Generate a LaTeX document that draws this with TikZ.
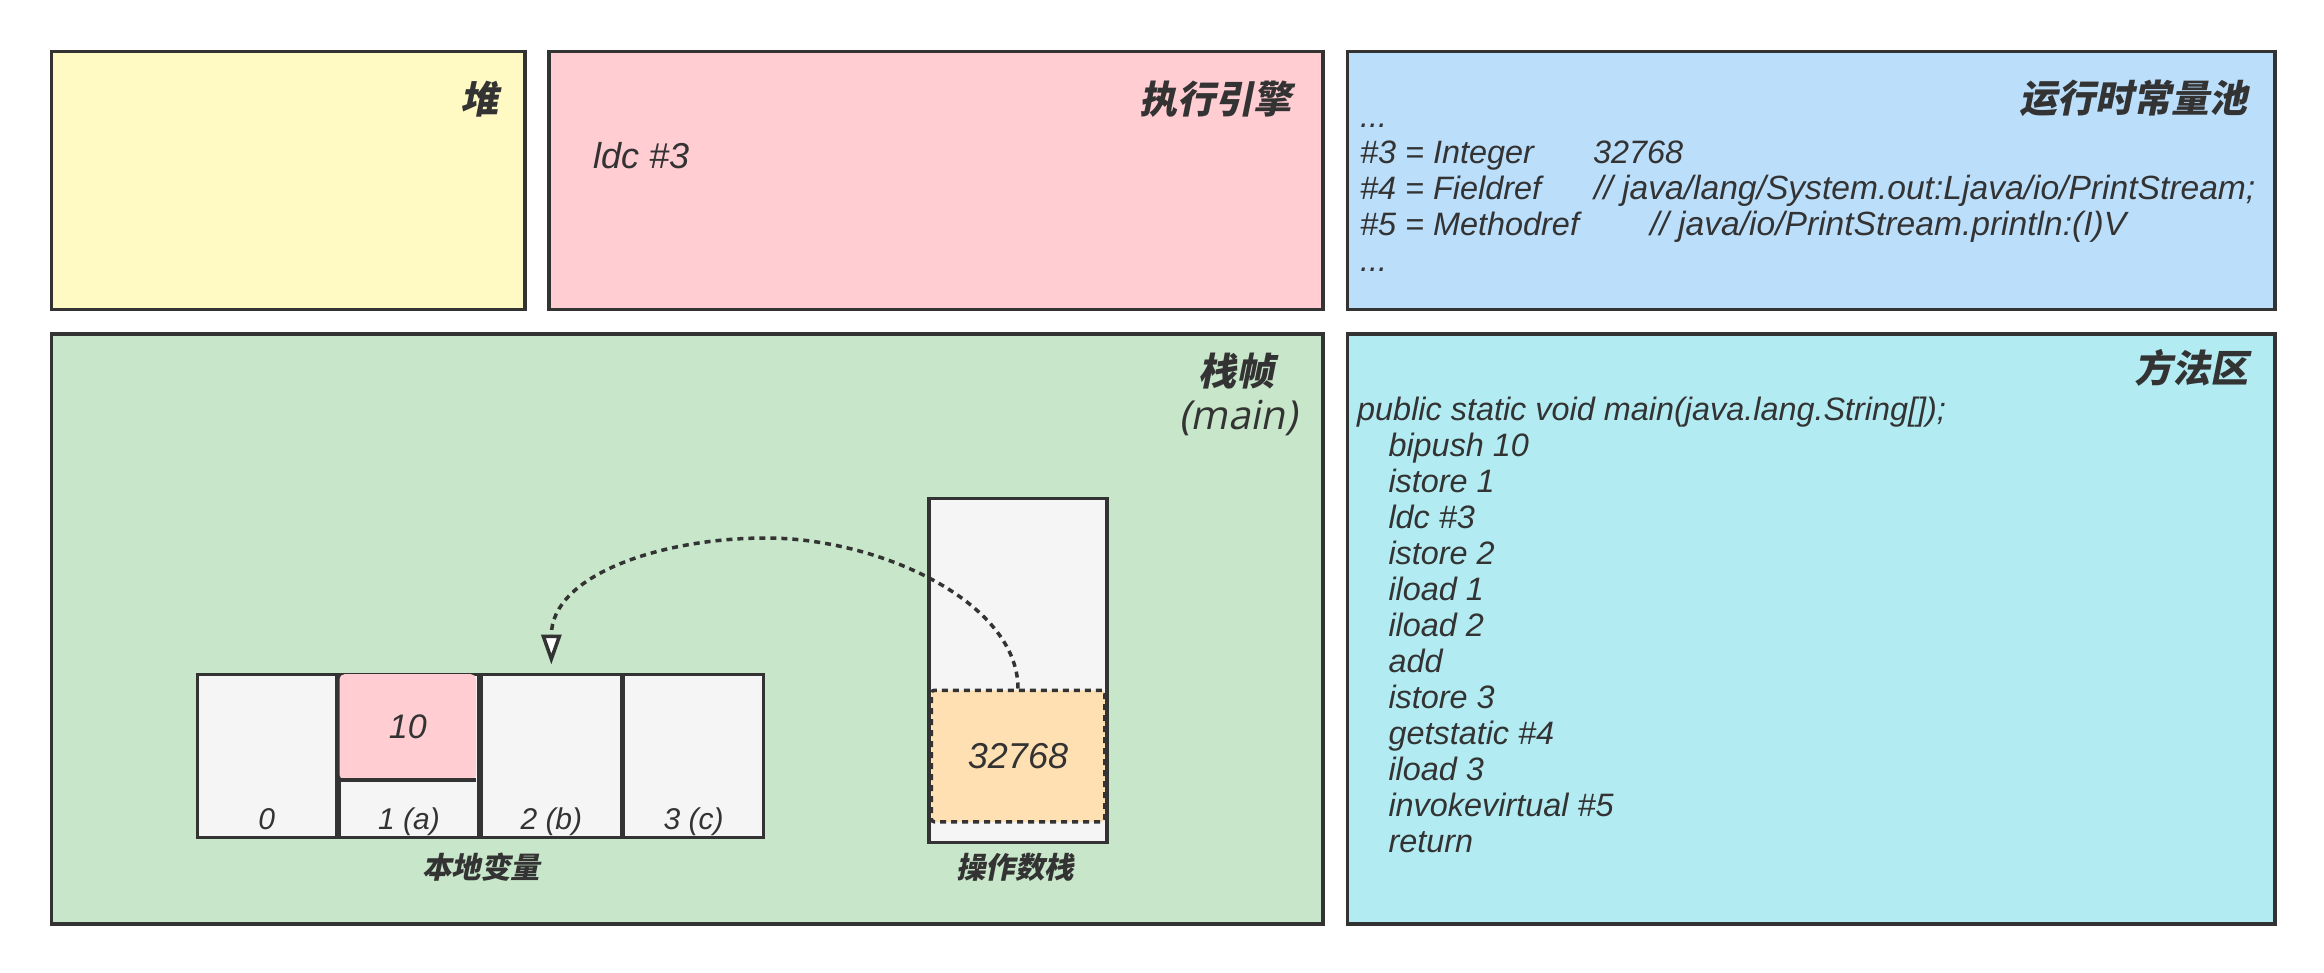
\documentclass[tikz,border=0pt]{standalone}
\usepackage{fontspec}
\setmainfont{Liberation Sans}
\newfontfamily\cjkfont{Noto Sans CJK SC}[FakeSlant=0.2]
\newfontfamily\humfont{Open Sans}[FakeSlant=0.2]
\usetikzlibrary{arrows.meta,calc}
\definecolor{ink}{HTML}{333333}
\definecolor{heapc}{HTML}{FFF9C4}
\definecolor{enginec}{HTML}{FFCDD2}
\definecolor{poolc}{HTML}{BBDEFB}
\definecolor{framec}{HTML}{C8E6C9}
\definecolor{methodc}{HTML}{B2EBF2}
\definecolor{cellgray}{HTML}{F5F5F5}
\definecolor{orangec}{HTML}{FFE0B2}
\definecolor{pinkc}{HTML}{FFCDD2}
\newcommand{\fs}[1]{\fontsize{#1bp}{#1bp}\selectfont}
\newcommand{\wide}{\fs{33.6}}
\tikzset{
  panel/.style={draw=ink, line width=3.5bp, anchor=north west, inner sep=0},
  cjktitle/.style={anchor=base east, inner sep=0, text=ink, font=\cjkfont\bfseries\fs{38}},
  code/.style={anchor=base west, inner sep=0, text=ink, font=\itshape\fs{32.4}},
  cell/.style={draw=ink, fill=cellgray, line width=3bp, anchor=north west, inner sep=0,
    minimum width=139.5bp, minimum height=163bp},
  celllabel/.style={anchor=base, inner sep=0, text=ink, font=\itshape\fs{30}},
  sublabel/.style={anchor=base, inner sep=0, text=ink, font=\cjkfont\bfseries\fs{29.5}},
  dotline/.style={draw=ink, line width=3.5bp, dash pattern=on 6bp off 5bp},
}
\begin{document}
\begin{tikzpicture}[x=1bp,y=-1bp]
\useasboundingbox (0,0) rectangle (2324,972);
\fill[white] (0,0) rectangle (2324,972);
% panels
\node[panel, fill=heapc, minimum width=473.5bp, minimum height=258bp] (heap) at (49.75,49.75) {};
\node[panel, fill=enginec, minimum width=774bp, minimum height=258bp] (engine) at (547.25,49.75) {};
\node[panel, fill=poolc, minimum width=927.5bp, minimum height=258bp] (pool) at (1345.75,49.75) {};
\node[panel, fill=framec, minimum width=1271.5bp, minimum height=590bp] (frame) at (49.75,332.25) {};
\node[panel, fill=methodc, minimum width=927.5bp, minimum height=590bp] (method) at (1345.75,332.25) {};
% titles
\node[cjktitle] (heapt) at (499,113) {堆};
\node[cjktitle] (enginet) at (1292,113) {执行引擎};
\node[cjktitle] (poolt) at (2248,112) {运行时常量池};
\node[cjktitle] (methodt) at (2249,382) {方法区};
\node[cjktitle, anchor=base] (framet) at (1236,385) {栈帧};
\node[anchor=base, inner sep=0, text=ink, font=\humfont\fs{40}] (framem) at (1238,429) {(main)};
% engine
\node[code, font=\itshape\fs{36}] (ldc) at (593,168.3) {ldc \#3};
% constant pool
\node[code] (p1) at (1360,127.3) {...};
\node[code] (p2) at (1360,163.3) {\makebox[233bp][l]{\#3 = Integer}32768};
\node[code] (p3) at (1360,199.3) {\makebox[234bp][l]{\#4 = Fieldref}{\wide // java/lang/System.out:Ljava/io/PrintStream;}};
\node[code] (p4) at (1360,235.3) {\makebox[290bp][l]{\#5 = Methodref}{\wide // java/io/PrintStream.println:(I)V}};
\node[code] (p5) at (1360,271.3) {...};
% method area
\node[code] (m0) at (1357,420.7) {public static void main(java.lang.String[]);};
\node[code] (m1) at (1388.3,456.7) {bipush 10};
\node[code] (m2) at (1388.3,492.7) {istore 1};
\node[code] (m3) at (1388.3,528.7) {ldc \#3};
\node[code] (m4) at (1388.3,564.7) {istore 2};
\node[code] (m5) at (1388.3,600.7) {iload 1};
\node[code] (m6) at (1388.3,636.7) {iload 2};
\node[code] (m7) at (1388.3,672.7) {add};
\node[code] (m8) at (1388.3,708.7) {istore 3};
\node[code] (m9) at (1388.3,744.7) {getstatic \#4};
\node[code] (m10) at (1388.3,780.7) {iload 3};
\node[code] (m11) at (1388.3,816.7) {invokevirtual \#5};
\node[code] (m12) at (1388.3,852.7) {return};
% local variables
\node[cell] (c0) at (195.5,672.5) {};
\node[cell] (c1) at (337.8,672.5) {};
\node[cell] (c2) at (480.1,672.5) {};
\node[cell] (c3) at (622.4,672.5) {};
\node[fill=pinkc, rounded corners=5bp, anchor=north west, inner sep=0,
  minimum width=136.5bp, minimum height=105.5bp, text=ink, font=\itshape\fs{34}] (ten) at (339.3,674) {10};
\draw[ink, line width=3.5bp] (ten.south west) -- (ten.south east);
\node[celllabel] (l0) at ($(c0.south)+(0,-9.5)$) {0};
\node[celllabel] (l1) at ($(c1.south)+(0,-9.5)$) {1 (a)};
\node[celllabel] (l2) at ($(c2.south)+(0,-9.5)$) {2 (b)};
\node[celllabel] (l3) at ($(c3.south)+(0,-9.5)$) {3 (c)};
\node[sublabel] (lvlabel) at (481,878) {本地变量};
% operand stack
\node[panel, fill=cellgray, minimum width=178bp, minimum height=344bp] (stack) at (927,496.5) {};
\node[dotline, fill=orangec, rounded corners=3bp, anchor=north west, inner sep=0,
  minimum width=173.5bp, minimum height=131.5bp, text=ink, font=\itshape\fs{36}] (ops) at (929.5,688.5) {32768};
\node[sublabel] (oslabel) at (1015,878) {操作数栈};
% connector
\coordinate (peak) at (766,538);
\draw[dotline, -{Triangle[length=30bp, width=20bp, fill=white]}, shorten >=8bp]
  (ops.north) .. controls ($(ops.north)+(0,-86)$) and (880,538) .. (peak)
  .. controls (660,538) and ($(c2.north)+(0,-97)$) .. (c2.north);
\end{tikzpicture}
\end{document}
